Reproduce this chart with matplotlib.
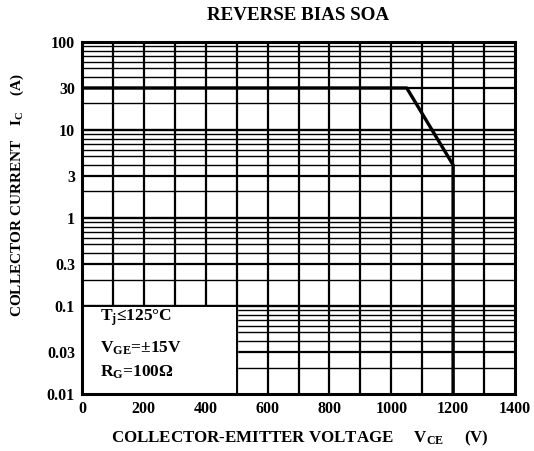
import matplotlib
matplotlib.use("Agg")
import matplotlib.pyplot as plt
import numpy as np

# RBSOA boundary
vce = [0, 1050, 1200, 1200]
ic = [30, 30, 4, 0.01]

xticks = [0, 200, 400, 600, 800, 1000, 1200, 1400]
yticks = [0.01, 0.03, 0.1, 0.3, 1, 3, 10, 30, 100]
ytick_labels = ["0.01", "0.03", "0.1", "0.3", "1", "3", "10", "30", "100"]

box_text = ["T$_\\mathregular{j}$\u2264125\u00b0C",
            "V$_\\mathregular{GE}$=\u00b115V",
            "R$_\\mathregular{G}$=100\u03a9"]
box_y = [0.073, 0.033, 0.0175]

plt.rcParams['font.family'] = ['Liberation Serif', 'DejaVu Serif']
plt.rcParams['font.weight'] = 'bold'
plt.rcParams['mathtext.default'] = 'regular'

fig = plt.figure(figsize=(5.34, 4.51), dpi=100)
ax = fig.add_axes([0.1536, 0.1264, 0.8108, 0.7805])
ax.set_yscale('log')
ax.set_xlim(0, 1400)
ax.set_ylim(0.01, 100)

# grid
for xv in np.arange(100, 1400, 100):
    ax.axvline(xv, color='black', lw=1.6, zorder=1)
for dec in [0.01, 0.1, 1, 10]:
    for m in range(2, 10):
        lw = 1.6 if m == 3 else 1.0
        ax.axhline(dec * m, color='black', lw=lw, zorder=1)
    if dec > 0.01:
        ax.axhline(dec, color='black', lw=1.7, zorder=1)

ax.plot(vce, ic, color='black', lw=2.4, zorder=3)

# condition box
ax.fill_between([0, 500], 0.01, 0.1, color='white', zorder=4)
ax.plot([0, 500, 500], [0.1, 0.1, 0.01], color='black', lw=1.4, zorder=5)
for t, yv in zip(box_text, box_y):
    ax.text(58, yv, t, fontsize=12.5, fontweight='bold',
            va='center', ha='left', zorder=6)

for s in ax.spines.values():
    s.set_linewidth(2.2)
    s.set_zorder(7)

ax.set_xticks(xticks)
ax.set_xticklabels([str(v) for v in xticks], fontsize=11.5, fontweight='bold')
ax.set_yticks(yticks)
ax.set_yticklabels(ytick_labels, fontsize=11.5, fontweight='bold')
ax.minorticks_off()
ax.tick_params(length=0, pad=5)

ax.set_title("REVERSE BIAS SOA", fontsize=13.7, fontweight='bold', pad=16)
ax.set_xlabel("COLLECTOR-EMITTER VOLTAGE     V$_\\mathregular{CE}$     (V)",
              fontsize=12.2, fontweight='bold')
ax.xaxis.set_label_coords(0.503, -0.10)
ax.set_ylabel("COLLECTOR CURRENT    I$_\\mathregular{C}$    (A)",
              fontsize=11, fontweight='bold')
ax.yaxis.set_label_coords(-0.13, 0.565)

fig.savefig("out.png", dpi=100)
